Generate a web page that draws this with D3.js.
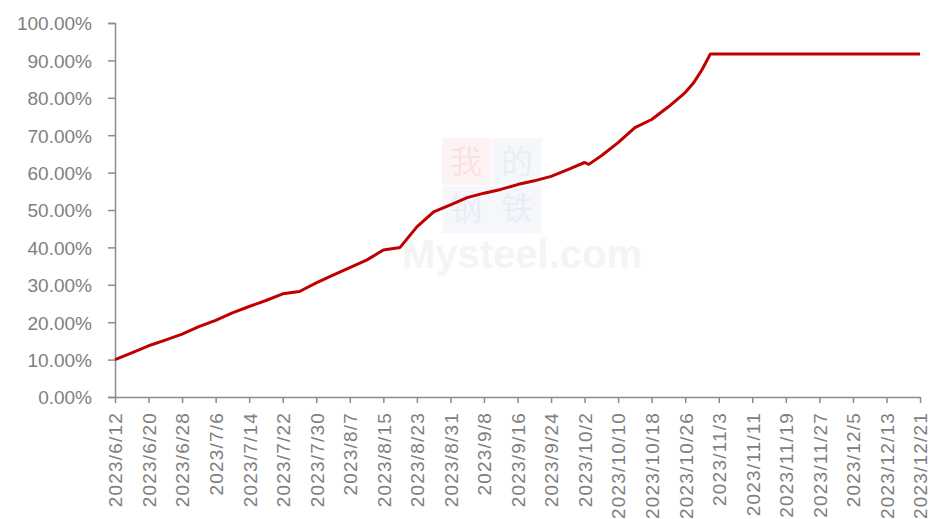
<!DOCTYPE html>
<html>
<head>
<meta charset="utf-8">
<title>2023 进度</title>
<script src="https://cdn.jsdelivr.net/npm/d3@7/dist/d3.min.js"></script>
<style>
  body { margin: 0; background: #fff; }
  svg text { font-family: "Liberation Sans", Arial, sans-serif; }
</style>
</head>
<body>
<div id="chart"></div>
<script>
// data
var dates = ["2023-06-12","2023-06-16","2023-06-20","2023-06-24","2023-06-28","2023-07-02","2023-07-06",
  "2023-07-10","2023-07-14","2023-07-18","2023-07-22","2023-07-26","2023-07-30","2023-08-03","2023-08-07",
  "2023-08-11","2023-08-15","2023-08-19","2023-08-23","2023-08-27","2023-08-31","2023-09-04","2023-09-08",
  "2023-09-12","2023-09-16","2023-09-20","2023-09-24","2023-09-28","2023-10-02","2023-10-03","2023-10-06",
  "2023-10-10","2023-10-12","2023-10-14","2023-10-18","2023-10-22","2023-10-26","2023-10-28","2023-10-30",
  "2023-11-01","2023-11-11","2023-11-19","2023-11-27","2023-12-05","2023-12-13","2023-12-21"];
var values = [0.100,0.118,0.137,0.152,0.168,0.188,0.205,
  0.225,0.242,0.258,0.276,0.282,0.305,0.326,0.346,
  0.366,0.393,0.400,0.455,0.495,0.514,0.533,0.545,
  0.555,0.568,0.578,0.590,0.608,0.627,0.622,0.645,
  0.680,0.700,0.720,0.742,0.776,0.814,0.840,0.875,
  0.917,0.917,0.917,0.917,0.917,0.917,0.917];
var tickDates = ["2023-06-12","2023-06-20","2023-06-28","2023-07-06","2023-07-14","2023-07-22","2023-07-30",
  "2023-08-07","2023-08-15","2023-08-23","2023-08-31","2023-09-08","2023-09-16","2023-09-24","2023-10-02",
  "2023-10-10","2023-10-18","2023-10-26","2023-11-03","2023-11-11","2023-11-19","2023-11-27","2023-12-05",
  "2023-12-13","2023-12-21"];
var yTicks = [0,0.1,0.2,0.3,0.4,0.5,0.6,0.7,0.8,0.9,1.0];

var W = 931, H = 519;
var parse = d3.timeParse("%Y-%m-%d");
var fmt = function (d) { return d.getFullYear() + "/" + (d.getMonth() + 1) + "/" + d.getDate(); };

var svg = d3.select("#chart").append("svg").attr("width", W).attr("height", H);

var x = d3.scaleTime().domain([parse(dates[0]), parse(dates[dates.length - 1])]).range([115, 920]);
var y = d3.scaleLinear().domain([0, 1]).range([397, 23]);

// watermark
var wm = svg.append("g").attr("opacity", 0.4);
wm.append("rect").attr("x", 442).attr("y", 138).attr("width", 49).attr("height", 47).attr("fill", "#fbe3e3");
wm.append("rect").attr("x", 492).attr("y", 138).attr("width", 50).attr("height", 47).attr("fill", "#e8edf7");
wm.append("rect").attr("x", 442).attr("y", 186).attr("width", 100).attr("height", 47).attr("fill", "#e8edf7");
wm.selectAll("text.cn").data([["我", 466, 173, "#f3b9b9"], ["的", 517, 173, "#c9d3e8"], ["钢", 466, 220, "#c9d3e8"], ["铁", 517, 220, "#c9d3e8"]])
  .enter().append("text").attr("class", "cn")
  .attr("x", function (d) { return d[1]; }).attr("y", function (d) { return d[2]; })
  .attr("text-anchor", "middle").style("font-family", "'Noto Sans CJK SC'").style("font-size", "32px")
  .attr("fill", function (d) { return d[3]; }).text(function (d) { return d[0]; });
wm.append("text").attr("x", 522).attr("y", 268).attr("text-anchor", "middle")
  .style("font-size", "40px").style("font-weight", "bold").attr("fill", "#e6e6e6").text("Mysteel.com");

// y axis
var yAxis = svg.append("g").attr("transform", "translate(115,0)")
  .call(d3.axisLeft(y).tickValues(yTicks).tickSize(7).tickPadding(16).tickFormat(function (d) { return (d * 100).toFixed(2) + "%"; }));
yAxis.select(".domain").attr("stroke", "#8c8c8c").attr("stroke-width", 1.5);
yAxis.selectAll(".tick line").attr("stroke", "#8c8c8c").attr("stroke-width", 1.5);
yAxis.selectAll(".tick text").attr("fill", "#808080").style("font-size", "19px").attr("dy", "0.36em");

// x axis
var xAxis = svg.append("g").attr("transform", "translate(0,397)")
  .call(d3.axisBottom(x).tickValues(tickDates.map(parse)).tickSize(6).tickSizeOuter(0).tickFormat(fmt));
xAxis.select(".domain").attr("stroke", "#8c8c8c").attr("stroke-width", 1.5);
xAxis.selectAll(".tick line").attr("stroke", "#8c8c8c").attr("stroke-width", 1.5);
xAxis.selectAll(".tick text").attr("fill", "#808080").style("font-size", "19px")
  .style("letter-spacing", "1.2px")
  .attr("text-anchor", "end").attr("transform", "rotate(-90)")
  .attr("x", -15).attr("y", 0).attr("dy", "0.36em");

// line
var line = d3.line()
  .x(function (d, i) { return x(parse(dates[i])); })
  .y(function (d) { return y(d); });
svg.append("path").datum(values)
  .attr("fill", "none").attr("stroke", "#c00000").attr("stroke-width", 3)
  .attr("stroke-linejoin", "round").attr("d", line);
</script>
</body>
</html>
